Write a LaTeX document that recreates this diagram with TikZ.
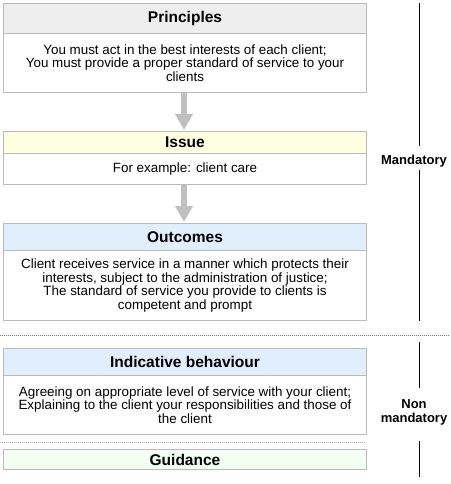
\documentclass[tikz,border=0pt]{standalone}
\usepackage{fontspec}
\setmainfont{Liberation Sans}
\usetikzlibrary{arrows.meta}
\definecolor{bordergray}{HTML}{BBBBBB}
\definecolor{hdrgray}{HTML}{EEEEEE}
\definecolor{hdryellow}{HTML}{FFFFE1}
\definecolor{hdrblue}{HTML}{E1EEFC}
\definecolor{hdrgreen}{HTML}{F4FFF4}
\definecolor{arrowgray}{HTML}{C0C0C0}
\definecolor{dotdark}{HTML}{777777}
\definecolor{dotlight}{HTML}{AAAAAA}
\begin{document}
\begin{tikzpicture}[x=1pt,y=-1pt,
  hdr/.style={draw=bordergray, line width=1pt, anchor=north west, inner sep=0pt,
    minimum width=363pt, font=\fontsize{15.5}{16}\selectfont\bfseries},
  body/.style={draw=bordergray, line width=1pt, anchor=north west, inner sep=0pt,
    minimum width=363pt, align=center, fill=white, font=\fontsize{13.4}{13.4}\selectfont},
  flowarrow/.style={draw=arrowgray, line width=6pt, -{Triangle[width=17pt,length=16pt]}, shorten >=1pt},
  sideline/.style={draw=black, line width=1pt},
  sidelabel/.style={font=\fontsize{13}{13}\selectfont\bfseries, align=center, inner sep=0pt}
]
\useasboundingbox (0,0) rectangle (450,484);
\fill[white] (0,0) rectangle (450,484);

% Principles
\node[hdr, fill=hdrgray, minimum height=30pt] (ph) at (3,3) {Principles};
\node[body, minimum height=59pt] (pb) at (3,33) {You must act in the best interests of each client;\\You must provide a proper standard of service to your\\clients};

% Issue
\node[hdr, fill=hdryellow, minimum height=22pt] (ih) at (3,131) {Issue};
\node[body, minimum height=31pt] (ib) at (3,153) {For example: client care};

% Outcomes
\node[hdr, fill=hdrblue, minimum height=27pt] (oh) at (3,223) {Outcomes};
\node[body, minimum height=70pt] (ob) at (3,250) {Client receives service in a manner which protects their\\interests, subject to the administration of justice;\\The standard of service you provide to clients is\\competent and prompt};

% Indicative behaviour
\node[hdr, fill=hdrblue, minimum height=27pt] (bh) at (3,348) {Indicative behaviour};
\node[body, minimum height=59pt] (bb) at (3,375) {Agreeing on appropriate level of service with your client;\\Explaining to the client your responsibilities and those of\\the client};

% Guidance
\node[hdr, fill=hdrgreen, minimum height=20pt] (gh) at (3,449) {Guidance};

% arrows
\draw[flowarrow] ([xshift=-1pt]pb.south) -- ([xshift=-1pt]ih.north);
\draw[flowarrow] ([xshift=-1pt]ib.south) -- ([xshift=-1pt]oh.north);

% separators
\coordinate (d1a) at (0,335.5);
\coordinate (d1b) at (450,335.5);
\draw[dotdark, line width=1pt, dash pattern=on 1pt off 1pt] (d1a) -- (d1b);
\coordinate (d2a) at (0,442.5);
\coordinate (d2b) at (366,442.5);
\draw[dotlight, line width=1pt, dash pattern=on 1pt off 1pt] (d2a) -- (d2b);

% side labels
\node[sidelabel] (mand) at (414,161) {Mandatory};
\node[sidelabel] (nonmand) at (414,412.5) {Non\\[1pt]mandatory};
\coordinate (s1) at (419,3);
\coordinate (s2) at (419,146);
\coordinate (s3) at (419,170);
\coordinate (s4) at (419,321);
\coordinate (s5) at (419,342);
\coordinate (s6) at (419,388);
\coordinate (s7) at (419,441);
\coordinate (s8) at (419,477);
\draw[sideline] (s1) -- (s2);
\draw[sideline] (s3) -- (s4);
\draw[sideline] (s5) -- (s6);
\draw[sideline] (s7) -- (s8);
\end{tikzpicture}
\end{document}
